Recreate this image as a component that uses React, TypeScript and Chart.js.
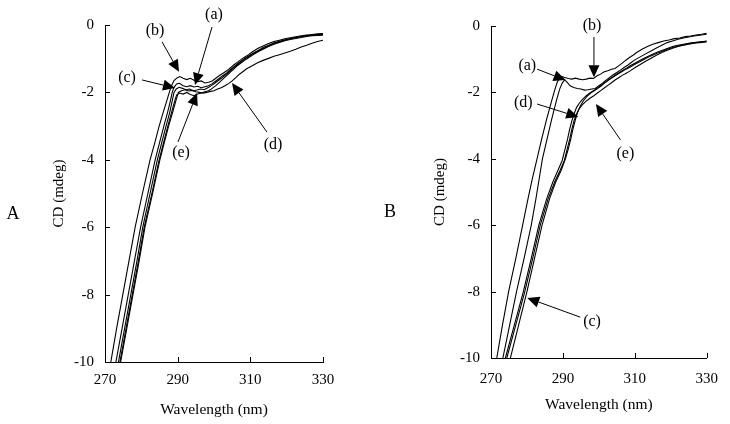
import React, { useEffect, useRef } from "react";
import { Chart, registerables } from "chart.js";

Chart.register(...registerables);

type Pt = [number, number];

// ---------- axis ranges / ticks ----------
const X_MIN = 270;
const X_MAX = 330;
const X_STEP = 20;
const Y_MIN = -10;
const Y_MAX = 0;
const Y_STEP = 2;
const X_TITLE = "Wavelength (nm)";
const Y_TITLE = "CD (mdeg)";

// ---------- Panel A curves: [wavelength nm, CD mdeg] ----------
const A_b: Pt[] = [[271.6,-10],[273.2,-9],[274.9,-8],[276.6,-7],[278.3,-6],[280.3,-5],[282.4,-4],[283.7,-3.5],[284.9,-3],[286.0,-2.6],[287.0,-2.25],[287.7,-2.0],[288.3,-1.8],[289.0,-1.65],[289.8,-1.57],[290.6,-1.53],[291.5,-1.58],[292.5,-1.62],[293.5,-1.58],[294.5,-1.64],[295.5,-1.68],[296.5,-1.66],[297.5,-1.72],[298.5,-1.7],[299.5,-1.66],[300.5,-1.58],[301.5,-1.5],[302.5,-1.43],[303.5,-1.36],[304.5,-1.27],[305.5,-1.18],[306.5,-1.1],[307.5,-1.02],[308.5,-0.95],[309.5,-0.88],[310.5,-0.8],[312,-0.7],[313.5,-0.62],[315,-0.55],[316.5,-0.49],[318,-0.45],[319.5,-0.41],[321,-0.38],[322.5,-0.35],[324,-0.32],[325.5,-0.3],[327,-0.28],[328.5,-0.26],[330,-0.25]];
const A_c: Pt[] = [[273.0,-10],[274.7,-9],[276.4,-8],[278.1,-7],[279.8,-6],[281.8,-5],[283.8,-4],[285.0,-3.5],[286.2,-3],[287.2,-2.6],[288.0,-2.25],[288.5,-2.0],[289.0,-1.85],[289.7,-1.75],[290.5,-1.73],[291.5,-1.8],[292.5,-1.83],[293.5,-1.8],[294.5,-1.84],[295.5,-1.82],[296.5,-1.86],[297.5,-1.83],[298.5,-1.8],[299.5,-1.74],[300.5,-1.66],[301.5,-1.58],[302.5,-1.5],[303.5,-1.42],[304.5,-1.32],[305.5,-1.24],[306.5,-1.15],[307.5,-1.07],[308.5,-0.99],[309.5,-0.92],[310.5,-0.85],[312,-0.76],[313.5,-0.67],[315,-0.6],[316.5,-0.53],[318,-0.48],[319.5,-0.44],[321,-0.4],[322.5,-0.37],[324,-0.34],[325.5,-0.32],[327,-0.3],[328.5,-0.28],[330,-0.27]];
const A_a: Pt[] = [[273.7,-10],[275.4,-9],[277.1,-8],[278.8,-7],[280.4,-6],[282.4,-5],[284.4,-4],[285.6,-3.5],[286.8,-3],[287.8,-2.6],[288.5,-2.25],[289.0,-2.0],[289.6,-1.9],[290.4,-1.85],[291.3,-1.88],[292.3,-1.92],[293.3,-1.9],[294.3,-1.95],[295.3,-1.93],[296.3,-1.9],[297.3,-1.92],[298.3,-1.86],[299.3,-1.8],[300.3,-1.72],[301.3,-1.64],[302.3,-1.56],[303.3,-1.47],[304.3,-1.38],[305.3,-1.28],[306.3,-1.19],[307.3,-1.1],[308.3,-1.02],[309.3,-0.95],[310.5,-0.87],[312,-0.78],[313.5,-0.7],[315,-0.62],[316.5,-0.55],[318,-0.5],[319.5,-0.45],[321,-0.41],[322.5,-0.38],[324,-0.35],[325.5,-0.32],[327,-0.3],[328.5,-0.29],[330,-0.28]];
const A_e: Pt[] = [[274.1,-10],[275.8,-9],[277.5,-8],[279.2,-7],[280.8,-6],[282.9,-5],[284.9,-4],[286.1,-3.5],[287.3,-3],[288.3,-2.6],[289.2,-2.25],[289.7,-2.08],[290.5,-2.02],[291.5,-2.05],[292.5,-2.0],[293.5,-2.06],[294.5,-2.1],[295.5,-2.05],[296.5,-2.02],[297.5,-1.98],[298.5,-1.95],[299.5,-1.88],[300.5,-1.8],[301.5,-1.7],[302.5,-1.6],[303.5,-1.5],[304.5,-1.4],[305.5,-1.3],[306.5,-1.2],[307.5,-1.12],[308.5,-1.04],[309.5,-0.97],[310.5,-0.9],[312,-0.8],[313.5,-0.72],[315,-0.64],[316.5,-0.57],[318,-0.52],[319.5,-0.47],[321,-0.43],[322.5,-0.4],[324,-0.37],[325.5,-0.34],[327,-0.32],[328.5,-0.31],[330,-0.3]];
const A_d: Pt[] = [[274.3,-10],[276.0,-9],[277.7,-8],[279.4,-7],[281.0,-6],[283.1,-5],[285.1,-4],[286.3,-3.5],[287.5,-3],[288.6,-2.6],[289.5,-2.25],[290.2,-2.0],[291.0,-1.95],[292.0,-1.92],[293.0,-1.96],[294.0,-1.94],[295.0,-1.98],[296.0,-2.0],[297.0,-2.02],[298.0,-2.0],[299.0,-1.97],[300.0,-1.95],[301.0,-1.9],[302.0,-1.86],[303.0,-1.8],[304.0,-1.74],[305.0,-1.66],[306.0,-1.56],[307.0,-1.46],[308.0,-1.38],[309.0,-1.3],[310.0,-1.24],[311.0,-1.18],[312.0,-1.12],[313.5,-1.05],[315.0,-0.99],[316.5,-0.93],[318.0,-0.88],[319.5,-0.83],[321.0,-0.78],[322.5,-0.72],[324.0,-0.65],[325.5,-0.6],[327.0,-0.54],[328.5,-0.49],[330,-0.45]];

// ---------- Panel B curves ----------
const B_b: Pt[] = [[271.6,-10],[273.2,-9],[274.9,-8],[276.9,-7],[278.8,-6],[280.3,-5.2],[281.5,-4.6],[282.8,-4.0],[284.1,-3.4],[285.5,-2.8],[287.0,-2.2],[287.8,-1.9],[288.4,-1.7],[289.0,-1.58],[289.6,-1.52],[290.5,-1.55],[291.5,-1.58],[292.5,-1.6],[293.5,-1.57],[294.5,-1.6],[295.5,-1.62],[296.5,-1.6],[297.5,-1.57],[298.5,-1.58],[299.5,-1.5],[300.5,-1.45],[301.5,-1.38],[302.5,-1.35],[303.5,-1.3],[304.5,-1.28],[305.5,-1.2],[306.5,-1.12],[307.5,-1.03],[308.5,-0.95],[309.5,-0.88],[310.5,-0.8],[312,-0.7],[313.5,-0.62],[315,-0.55],[316.5,-0.5],[318,-0.45],[319.5,-0.42],[321,-0.38],[322.5,-0.36],[324,-0.32],[325.5,-0.3],[327,-0.27],[328.5,-0.25],[330,-0.22]];
const B_a: Pt[] = [[273.3,-10],[275.2,-9],[277.1,-8],[279.2,-7],[281.2,-6],[282.5,-5.2],[283.4,-4.6],[284.3,-4.0],[285.6,-3.4],[286.9,-2.8],[288.3,-2.2],[289.1,-1.9],[289.8,-1.72],[290.5,-1.62],[291.2,-1.7],[292,-1.8],[293,-1.85],[294,-1.88],[295,-1.9],[296,-1.93],[297,-1.92],[298,-1.9],[299,-1.88],[300,-1.8],[301,-1.72],[302,-1.63],[303,-1.55],[304,-1.47],[305,-1.4],[306,-1.33],[307,-1.25],[308,-1.18],[309,-1.1],[310,-1.02],[311.5,-0.93],[313,-0.84],[314.5,-0.75],[316,-0.66],[317.5,-0.58],[319,-0.5],[320.5,-0.45],[322,-0.4],[323.5,-0.36],[325,-0.33],[326.5,-0.3],[328,-0.28],[330,-0.25]];
const B_d: Pt[] = [[274.0,-10],[276.5,-9],[279.0,-8],[281.2,-7],[283.3,-6],[285.5,-5.2],[287.2,-4.7],[288.6,-4.35],[289.8,-4.05],[290.6,-3.7],[291.3,-3.4],[291.9,-3.1],[292.5,-2.85],[293.1,-2.65],[293.8,-2.45],[294.6,-2.32],[295.5,-2.2],[296.5,-2.1],[297.5,-2.02],[298.5,-1.95],[299.5,-1.88],[300.5,-1.8],[301.5,-1.72],[302.5,-1.64],[303.5,-1.57],[304.5,-1.5],[305.5,-1.43],[306.5,-1.37],[307.5,-1.3],[308.5,-1.25],[310,-1.15],[311.5,-1.07],[313,-0.98],[314.5,-0.9],[316,-0.83],[317.5,-0.77],[319,-0.7],[320.5,-0.65],[322,-0.6],[323.5,-0.57],[325,-0.53],[326.5,-0.5],[328,-0.48],[330,-0.45]];
const B_e: Pt[] = [[274.4,-10],[276.9,-9],[279.4,-8],[281.6,-7],[283.7,-6],[285.9,-5.2],[287.7,-4.7],[289.2,-4.35],[290.4,-4.05],[291.2,-3.7],[291.9,-3.4],[292.5,-3.1],[293.1,-2.85],[293.8,-2.65],[294.6,-2.48],[295.6,-2.35],[296.6,-2.25],[297.6,-2.17],[298.6,-2.1],[299.6,-2.02],[300.6,-1.94],[301.6,-1.86],[302.6,-1.78],[303.6,-1.7],[304.6,-1.62],[305.6,-1.55],[306.6,-1.48],[307.6,-1.42],[308.6,-1.36],[310,-1.26],[311.5,-1.16],[313,-1.06],[314.5,-0.97],[316,-0.88],[317.5,-0.8],[319,-0.73],[320.5,-0.67],[322,-0.62],[323.5,-0.58],[325,-0.55],[326.5,-0.52],[328,-0.5],[330,-0.48]];
const B_c: Pt[] = [[275.4,-10],[277.7,-9],[280.0,-8],[282.1,-7],[284.2,-6],[286.3,-5.2],[288.0,-4.7],[289.5,-4.35],[290.7,-4.0],[291.5,-3.7],[292.2,-3.4],[292.8,-3.1],[293.4,-2.85],[294.0,-2.62],[294.8,-2.42],[295.7,-2.25],[296.7,-2.12],[297.7,-2.02],[298.7,-1.95],[299.7,-1.88],[300.7,-1.8],[301.7,-1.7],[302.7,-1.62],[303.7,-1.55],[304.7,-1.47],[305.7,-1.4],[306.7,-1.33],[307.7,-1.27],[308.7,-1.2],[310,-1.12],[311.5,-1.03],[313,-0.95],[314.5,-0.87],[316,-0.8],[317.5,-0.74],[319,-0.68],[320.5,-0.62],[322,-0.58],[323.5,-0.55],[325,-0.52],[326.5,-0.5],[328,-0.48],[330,-0.46]];

// ---------- arrow annotations: label, text position, arrow tail, arrow tip (data units) ----------
type Arrow = { label: string; text: Pt; tail: Pt; tip: Pt };
const A_arrows: Arrow[] = [
  { label: "(a)", text: [300.0, 0.3], tail: [299.45, -0.06], tip: [294.77, -1.78] },
  { label: "(b)", text: [283.76, -0.18], tail: [285.69, -0.5], tip: [290.37, -1.39] },
  { label: "(c)", text: [276.06, -1.57], tail: [280.18, -1.63], tip: [289.27, -1.87] },
  { label: "(d)", text: [316.24, -3.56], tail: [314.59, -3.18], tip: [304.96, -1.72] },
  { label: "(e)", text: [290.92, -3.8], tail: [290.09, -3.47], tip: [295.32, -2.02] },
];
const B_arrows: Arrow[] = [
  { label: "(a)", text: [280.09, -1.2], tail: [282.82, -1.3], tip: [290.73, -1.63] },
  { label: "(b)", text: [298.09, 0.0], tail: [298.63, -0.33], tip: [298.63, -1.54] },
  { label: "(c)", text: [298.09, -8.92], tail: [294.82, -8.77], tip: [280.09, -8.19] },
  { label: "(d)", text: [279.0, -2.32], tail: [282.82, -2.35], tip: [294.27, -2.74] },
  { label: "(e)", text: [307.36, -3.86], tail: [306.0, -3.43], tip: [299.18, -2.35] },
];

const FONT = '"Liberation Serif", "Times New Roman", serif';

const extrasPlugin = {
  id: "cdExtras",
  afterDraw(chart: any, _args: any, opts: any) {
    const ctx = chart.ctx as CanvasRenderingContext2D;
    const xs = chart.scales.x;
    const ys = chart.scales.y;
    ctx.save();
    ctx.strokeStyle = "#000";
    ctx.fillStyle = "#000";
    ctx.lineWidth = 1;
    // inward tick marks
    ctx.beginPath();
    xs.ticks.forEach((t: any) => {
      const px = Math.round(xs.getPixelForValue(t.value)) + 0.5;
      ctx.moveTo(px, ys.bottom);
      ctx.lineTo(px, ys.bottom - 5);
    });
    ys.ticks.forEach((t: any) => {
      const py = Math.round(ys.getPixelForValue(t.value)) + 0.5;
      ctx.moveTo(xs.left, py);
      ctx.lineTo(xs.left + 5, py);
    });
    ctx.stroke();
    // arrows with labels
    ctx.font = `16px ${FONT}`;
    ctx.textAlign = "center";
    ctx.textBaseline = "middle";
    (opts.arrows as Arrow[]).forEach((a) => {
      const tx = xs.getPixelForValue(a.text[0]);
      const ty = ys.getPixelForValue(a.text[1]);
      const x0 = xs.getPixelForValue(a.tail[0]);
      const y0 = ys.getPixelForValue(a.tail[1]);
      const x1 = xs.getPixelForValue(a.tip[0]);
      const y1 = ys.getPixelForValue(a.tip[1]);
      ctx.fillText(a.label, tx, ty);
      const ang = Math.atan2(y1 - y0, x1 - x0);
      const L = 12;
      const W = 5.5;
      const bx = x1 - L * Math.cos(ang);
      const by = y1 - L * Math.sin(ang);
      ctx.beginPath();
      ctx.moveTo(x0, y0);
      ctx.lineTo(bx, by);
      ctx.stroke();
      ctx.beginPath();
      ctx.moveTo(x1, y1);
      ctx.lineTo(bx + W * Math.sin(ang), by - W * Math.cos(ang));
      ctx.lineTo(bx - W * Math.sin(ang), by + W * Math.cos(ang));
      ctx.closePath();
      ctx.fill();
    });
    // panel letter
    ctx.font = `18px ${FONT}`;
    ctx.fillText(opts.letter, opts.letterX, opts.letterY);
    ctx.restore();
  },
};

type PanelProps = {
  curves: Pt[][];
  arrows: Arrow[];
  letter: string;
  letterX: number;
  letterY: number;
  padLeft: number;
  padRight: number;
  padTop: number;
  yAxisWidth: number;
  xAxisHeight: number;
  xTickPad: number;
  xTitlePadBottom: number;
};

function CDPanel(p: PanelProps) {
  const ref = useRef<HTMLCanvasElement | null>(null);
  useEffect(() => {
    if (!ref.current) return;
    const chart = new Chart(ref.current, {
      type: "line",
      data: {
        datasets: p.curves.map((c) => ({
          data: c.map(([x, y]) => ({ x, y })),
          borderColor: "#000",
          borderWidth: 1.1,
          pointRadius: 0,
          tension: 0,
          fill: false,
        })),
      },
      options: {
        animation: false,
        responsive: false,
        devicePixelRatio: 1,
        layout: { padding: { left: p.padLeft, right: p.padRight, top: p.padTop, bottom: 0 } },
        plugins: {
          legend: { display: false },
          tooltip: { enabled: false },
          cdExtras: {
            arrows: p.arrows,
            letter: p.letter,
            letterX: p.letterX,
            letterY: p.letterY,
          },
        } as any,
        scales: {
          x: {
            type: "linear",
            min: X_MIN,
            max: X_MAX,
            grid: { display: false, drawTicks: false },
            border: { display: true, color: "#000", width: 1 },
            ticks: {
              stepSize: X_STEP,
              color: "#000",
              padding: p.xTickPad,
              font: { family: FONT, size: 15 },
              maxRotation: 0,
              callback: (v: any) => String(v),
            },
            title: {
              display: true,
              text: X_TITLE,
              color: "#000",
              font: { family: FONT, size: 15.5 },
              padding: { top: 0, bottom: p.xTitlePadBottom },
            },
            afterFit: (s: any) => {
              s.height = p.xAxisHeight;
            },
          },
          y: {
            type: "linear",
            min: Y_MIN,
            max: Y_MAX,
            grid: { display: false, drawTicks: false },
            border: { display: true, color: "#000", width: 1 },
            ticks: {
              stepSize: Y_STEP,
              color: "#000",
              padding: 11,
              font: { family: FONT, size: 15 },
              callback: (v: any) => String(v),
            },
            title: {
              display: true,
              text: Y_TITLE,
              color: "#000",
              font: { family: FONT, size: 15 },
              padding: { top: 4, bottom: 0 },
            },
            afterFit: (s: any) => {
              s.width = p.yAxisWidth;
            },
          },
        },
      },
      plugins: [extrasPlugin],
    });
    return () => chart.destroy();
  }, []);
  return <canvas ref={ref} width={365} height={424} style={{ display: "block", width: 365, height: 424 }} />;
}

export default function App() {
  return (
    <div style={{ position: "fixed", left: 0, top: 0, width: 730, height: 424, background: "#fff" }}>
      <div style={{ position: "absolute", left: 0, top: 0 }}>
        <CDPanel
          curves={[A_a, A_b, A_c, A_d, A_e]}
          arrows={A_arrows}
          letter="A"
          letterX={13}
          letterY={214}
          padLeft={46}
          padRight={42}
          padTop={25}
          yAxisWidth={59}
          xAxisHeight={62}
          xTickPad={9}
          xTitlePadBottom={5}
        />
      </div>
      <div style={{ position: "absolute", left: 365, top: 0 }}>
        <CDPanel
          curves={[B_a, B_b, B_c, B_d, B_e]}
          arrows={B_arrows}
          letter="B"
          letterX={25}
          letterY={212}
          padLeft={62}
          padRight={19}
          padTop={26}
          yAxisWidth={64}
          xAxisHeight={66}
          xTickPad={12}
          xTitlePadBottom={10}
        />
      </div>
    </div>
  );
}
